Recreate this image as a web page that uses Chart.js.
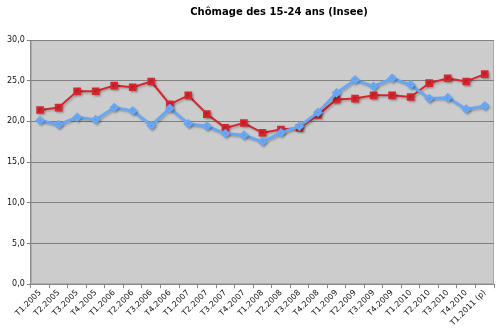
<!DOCTYPE html>
<html><head><meta charset="utf-8">
<script src="https://cdn.jsdelivr.net/npm/chart.js@4.4.1/dist/chart.umd.min.js"></script>
<style>html,body{margin:0;padding:0;background:#fff;}#wrap{width:500px;height:329px;}</style>
</head><body><div id="wrap"><canvas id="c" width="500" height="329"></canvas></div>
<script>
const categories = ["T1.2005","T2.2005","T3.2005","T4.2005","T1.2006","T2.2006","T3.2006","T4.2006","T1.2007","T2.2007","T3.2007","T4.2007","T1.2008","T2.2008","T3.2008","T4.2008","T1.2009","T2.2009","T3.2009","T4.2009","T1.2010","T2.2010","T3.2010","T4.2010","T1.2011 (p)"];
const redSeries = [21.4,21.7,23.7,23.7,24.4,24.2,24.9,22.1,23.2,20.9,19.2,19.8,18.6,19.0,19.2,20.8,22.7,22.8,23.2,23.2,23.0,24.7,25.3,24.9,25.8];
const blueSeries = [20.1,19.6,20.5,20.2,21.7,21.3,19.5,21.6,19.7,19.4,18.5,18.3,17.5,18.6,19.4,21.1,23.5,25.1,24.3,25.3,24.5,22.8,22.9,21.5,21.9];
const titleText = "Chômage des 15-24 ans (Insee)";
const yMin = 0, yMax = 30, yStep = 5;

const bgPlugin = {
  id: 'bg',
  beforeDraw(chart) {
    const {ctx, chartArea: a} = chart;
    ctx.save();
    ctx.fillStyle = '#cccccc';
    ctx.fillRect(a.left, a.top, a.right - a.left, a.bottom - a.top);
    ctx.strokeStyle = '#a8a8a8';
    ctx.lineWidth = 1;
    ctx.strokeRect(a.left + 0.5, a.top + 0.5, a.right - a.left - 1, a.bottom - a.top - 1);
    ctx.restore();
  },
  afterDraw(chart) {
    const ctx = chart.ctx;
    ctx.save();
    ctx.font = 'bold 10px "DejaVu Sans"';
    ctx.fillStyle = '#000';
    ctx.textAlign = 'center';
    ctx.textBaseline = 'middle';
    ctx.fillText(titleText, 279, 12);
    ctx.restore();
  },
  beforeDatasetDraw(chart) {
    chart.ctx.save();
    chart.ctx.shadowColor = 'rgba(0,0,0,0.22)';
    chart.ctx.shadowOffsetX = 1.5;
    chart.ctx.shadowOffsetY = 1.5;
    chart.ctx.shadowBlur = 2;
  },
  afterDatasetDraw(chart) { chart.ctx.restore(); }
};

new Chart(document.getElementById('c'), {
  type: 'line',
  data: {
    labels: categories,
    datasets: [
      {
        data: blueSeries,
        borderColor: '#6aa7f2',
        backgroundColor: '#6aa7f2',
        borderWidth: 3,
        pointStyle: 'rectRot',
        pointRadius: 2.8,
        pointHoverRadius: 2.8,
        tension: 0
      },
      {
        data: redSeries,
        borderColor: '#d8262e',
        backgroundColor: '#d8262e',
        borderWidth: 2,
        pointStyle: 'rect',
        pointRadius: 4,
        pointHoverRadius: 4,
        tension: 0
      }
    ]
  },
  options: {
    responsive: false,
    animation: false,
    devicePixelRatio: 1,
    layout: { padding: { top: 40, right: 4, left: 5, bottom: 1 } },
    plugins: { legend: { display: false }, title: { display: false }, tooltip: { enabled: false } },
    scales: {
      x: {
        offset: true,
        grid: { display: true, offset: true, drawOnChartArea: false, drawTicks: true, tickLength: 4, color: '#888' },
        border: { display: true, color: '#888' },
        ticks: {
          minRotation: 45, maxRotation: 45, autoSkip: false,
          color: '#111', font: { family: '"DejaVu Sans"', size: 8 }, padding: 0
        }
      },
      y: {
        min: yMin, max: yMax,
        grid: { color: '#808080', drawTicks: true, tickLength: 4, lineWidth: 1 },
        border: { display: true, color: '#888' },
        ticks: {
          stepSize: yStep,
          color: '#111', font: { family: '"DejaVu Sans"', size: 8 }, padding: 2,
          callback: v => v.toFixed(1).replace('.', ',')
        }
      }
    }
  },
  plugins: [bgPlugin]
});
</script>
</body></html>
